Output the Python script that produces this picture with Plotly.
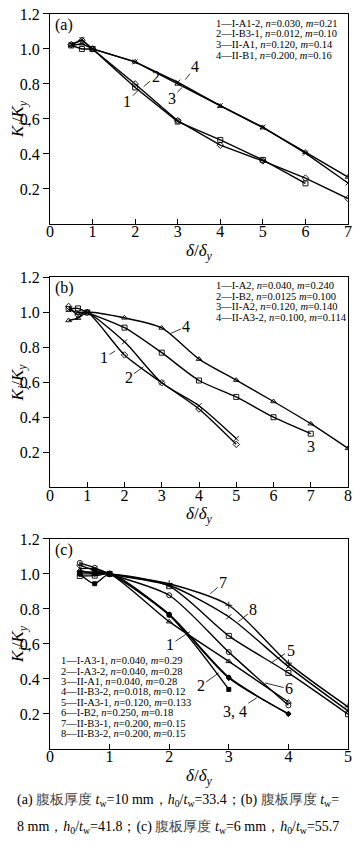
import plotly.graph_objects as go

# ---------------- data ----------------
# panel (a)
a_x = [
    [0.5, 0.75, 1, 2, 3, 4, 5, 6, 7],
    [0.5, 0.75, 1, 2, 3, 4, 5, 6],
    [0.5, 0.75, 1, 2, 3, 4, 5, 6, 7],
    [0.5, 0.75, 1, 2, 3, 4, 5, 6, 7],
]
a_y = [
    [1.025, 1.05, 1.0, 0.80, 0.59, 0.45, 0.36, 0.262, 0.145],
    [1.02, 1.0, 1.0, 0.78, 0.585, 0.48, 0.366, 0.232],
    [1.02, 1.03, 1.0, 0.926, 0.80, 0.673, 0.55, 0.41, 0.268],
    [1.025, 1.054, 1.0, 0.926, 0.81, 0.676, 0.553, 0.405, 0.234],
]
a_legend = [
    "1—I-A1-2, <i>n</i>=0.030, <i>m</i>=0.21",
    "2—I-B3-1, <i>n</i>=0.012, <i>m</i>=0.10",
    "3—II-A1, <i>n</i>=0.120, <i>m</i>=0.14",
    "4—II-B1, <i>n</i>=0.200, <i>m</i>=0.16",
]

# panel (b)
b_x = [
    [0.5, 0.75, 1, 2, 3, 4, 5],
    [0.5, 0.75, 1, 2, 3, 4, 5],
    [0.5, 0.75, 1, 2, 3, 4, 5, 6, 7],
    [0.5, 0.75, 1, 2, 3, 4, 5, 6, 7, 8],
]
b_y = [
    [1.034, 0.986, 1.0, 0.757, 0.598, 0.448, 0.246],
    [1.016, 1.0, 1.0, 0.832, 0.598, 0.467, 0.279],
    [1.02, 1.023, 1.0, 0.913, 0.77, 0.611, 0.517, 0.401, 0.307],
    [0.954, 0.967, 1.0, 0.969, 0.911, 0.733, 0.613, 0.491, 0.364, 0.223],
]
b_legend = [
    "1—I-A2, <i>n</i>=0.040, <i>m</i>=0.240",
    "2—I-B2, <i>n</i>=0.0125 <i>m</i>=0.100",
    "3—II-A2, <i>n</i>=0.120, <i>m</i>=0.140",
    "4—II-A3-2, <i>n</i>=0.100, <i>m</i>=0.114",
]

# panel (c)
c_x = [
    [0.5, 0.75, 1, 2, 3, 4],
    [0.5, 0.75, 1, 2, 3],
    [0.5, 0.75, 1, 2, 3, 4],
    [0.5, 0.75, 1, 2, 3, 4],
    [0.5, 0.75, 1, 2, 3, 4, 5],
    [0.5, 0.75, 1, 2, 3, 4],
    [0.5, 0.75, 1, 2, 3, 4, 5],
    [0.5, 0.75, 1, 2, 3, 4, 5],
]
c_y = [
    [1.02, 1.0, 1.0, 0.727, 0.50, 0.268],
    [1.0, 0.944, 1.0, 0.765, 0.34],
    [1.01, 1.01, 1.0, 0.77, 0.41, 0.20],
    [1.0, 1.0, 1.0, 0.765, 0.405, 0.20],
    [0.988, 0.99, 1.0, 0.93, 0.646, 0.434, 0.198],
    [1.063, 1.035, 1.0, 0.878, 0.553, 0.249],
    [1.05, 1.02, 1.0, 0.944, 0.821, 0.49, 0.24],
    [1.03, 1.03, 1.0, 0.935, 0.755, 0.47, 0.217],
]
c_legend = [
    "1—I-A3-1, <i>n</i>=0.040, <i>m</i>=0.29",
    "2—I-A3-2, <i>n</i>=0.040, <i>m</i>=0.28",
    "3—II-A1, <i>n</i>=0.040, <i>m</i>=0.28",
    "4—II-B3-2, <i>n</i>=0.018, <i>m</i>=0.12",
    "5—II-A3-1, <i>n</i>=0.120, <i>m</i>=0.133",
    "6—I-B2, <i>n</i>=0.250, <i>m</i>=0.18",
    "7—II-B3-1, <i>n</i>=0.200, <i>m</i>=0.15",
    "8—II-B3-2, <i>n</i>=0.200, <i>m</i>=0.15",
]

y_ticks = [0.2, 0.4, 0.6, 0.8, 1.0, 1.2]

# ---------------- styling/layout ----------------
W, H = 353, 843
L, R = 50, 348
SERIF = "Liberation Serif"


def X(px):
    return (px - L) / (R - L)


def Y(py):
    return 1 - py / H


panels = [
    dict(top=6, bot=218, xmax=7, label="(a)", tgap=28),
    dict(top=272, bot=484, xmax=8, label="(b)", tgap=28),
    dict(top=536, bot=748, xmax=5, label="(c)", tgap=28),
]

fig = go.Figure()

a_sym = ["diamond-open", "square-open", "triangle-up-open", "x-thin"]
b_sym = ["diamond-open", "x-thin", "square-open", "triangle-up-open"]
c_sym = ["triangle-up-open", "square", "circle", "diamond", "square-open",
         "circle-open", "cross-thin", "x-thin"]


def add_series(xs, ys, syms, ax_id, shape):
    for xv, yv, s in zip(xs, ys, syms):
        small = s in ("square", "circle", "diamond")
        fig.add_trace(go.Scatter(
            x=xv, y=yv, mode="lines+markers",
            xaxis="x" + ax_id, yaxis="y" + ax_id,
            line=dict(color="black", width=1.4, shape=shape,
                      smoothing=0.7 if shape == "spline" else None),
            marker=dict(symbol=s, size=4 if small else 5, color="black",
                        line=dict(color="black", width=0.9)),
            hoverinfo="skip",
        ))


add_series(a_x, a_y, a_sym, "", "linear")
add_series(b_x, b_y, b_sym, "2", "spline")
add_series(c_x, c_y, c_sym, "3", "spline")

layout = dict(
    width=W, height=H,
    margin=dict(l=L, r=W - R, t=0, b=0),
    paper_bgcolor="white", plot_bgcolor="white",
    showlegend=False,
    font=dict(family=SERIF, size=14, color="black"),
)
for i, p in enumerate(panels):
    sfx = "" if i == 0 else str(i + 1)
    layout["xaxis" + sfx] = dict(
        domain=[0, 1], anchor="y" + sfx, range=[0, p["xmax"]],
        tickvals=list(range(0, p["xmax"] + 1)),
        ticks="inside", ticklen=5, tickcolor="black", tickwidth=1,
        showline=True, linecolor="black", linewidth=1, mirror=True,
        showgrid=False, zeroline=False, ticklabelstandoff=-7,
        tickfont=dict(family=SERIF, size=16, color="black"),
    )
    layout["yaxis" + sfx] = dict(
        domain=[Y(p["bot"]), Y(p["top"])], anchor="x" + sfx, range=[0, 1.2],
        tickvals=y_ticks, ticktext=["%.1f" % t for t in y_ticks],
        ticks="outside", ticklen=6, tickcolor="black", tickwidth=1,
        showline=True, linecolor="black", linewidth=1, mirror=True,
        showgrid=False, zeroline=False,
        tickfont=dict(family=SERIF, size=16, color="black"),
    )
fig.update_layout(**layout)

ann = []
for i, p in enumerate(panels):
    # panel label
    ann.append(dict(xref="paper", yref="paper", x=X(53), y=Y(p["top"] + 11),
                    xanchor="left", yanchor="middle", text=p["label"],
                    showarrow=False, font=dict(family=SERIF, size=16)))
    # y title
    ann.append(dict(xref="paper", yref="paper", x=X(19),
                    y=Y((p["top"] + p["bot"]) / 2), textangle=-90,
                    xanchor="center", yanchor="middle",
                    text="<i>K</i><sub><i>j</i></sub>/<i>K</i><sub><i>y</i></sub>",
                    showarrow=False, font=dict(family=SERIF, size=17)))
    # x title
    ann.append(dict(xref="paper", yref="paper", x=X(199),
                    y=Y(p["bot"] + p["tgap"]),
                    xanchor="center", yanchor="middle", borderpad=0,
                    text="<i>δ</i>/<i>δ</i><sub><i>y</i></sub>",
                    showarrow=False, font=dict(family=SERIF, size=17)))


def legend_lines(lines, x0, y0, dy):
    for k, t in enumerate(lines):
        ann.append(dict(xref="paper", yref="paper", x=X(x0), y=Y(y0 + k * dy),
                        xanchor="left", yanchor="middle", text=t,
                        borderpad=0,
                        showarrow=False, font=dict(family=SERIF, size=10.5)))


legend_lines(a_legend, 215, 15.5, 10.7)
legend_lines(b_legend, 215, 280.5, 10.6)
legend_lines(c_legend, 60, 659, 10.5)


def lab(text, xa, ya, x, y, ax, ay, arrow=True):
    ann.append(dict(xref=xa, yref=ya, x=x, y=y, ax=ax, ay=ay, text=text,
                    showarrow=arrow, arrowhead=0, arrowwidth=0.8,
                    arrowcolor="black", standoff=0,
                    font=dict(family=SERIF, size=16)))


# panel (a) curve labels
lab("1", "x", "y", 2.1, 0.77, -12, 12)
lab("2", "x", "y", 2.2, 0.785, 12, -10)
lab("3", "x", "y", 3.1, 0.78, -10, 11)
lab("4", "x", "y", 3.18, 0.825, 10, -13)
# panel (b)
lab("1", "x2", "y2", 1.75, 0.78, -11, 7)
lab("2", "x2", "y2", 2.51, 0.69, -15, 11)
lab("4", "x2", "y2", 3.23, 0.879, 16, -7)
lab("3", "x2", "y2", 7, 0.235, 0, 0, arrow=False)
# panel (c)
lab("7", "x3", "y3", 2.69, 0.887, 13, -11)
lab("8", "x3", "y3", 3.16, 0.727, 15, -12)
lab("1", "x3", "y3", 2.35, 0.67, -20, 13)
lab("5", "x3", "y3", 3.70, 0.49, 20, -13)
lab("6", "x3", "y3", 3.61, 0.377, 24, 6)
lab("2", "x3", "y3", 2.83, 0.434, -18, 13)
lab("3, 4", "x3", "y3", 3.47, 0.292, -22, 14)

# caption
G = '<span style="color:#444">'
cap1 = ("(a) " + G + "腹板厚度</span> <i>t</i><sub>w</sub>=10 mm，"
        "<i>h</i><sub>0</sub>/<i>t</i><sub>w</sub>=33.4；(b) " + G +
        "腹板厚度</span> <i>t</i><sub>w</sub>=")
cap2 = ("8 mm，<i>h</i><sub>0</sub>/<i>t</i><sub>w</sub>=41.8；(c) " + G +
        "腹板厚度</span> <i>t</i><sub>w</sub>=6 mm，"
        "<i>h</i><sub>0</sub>/<i>t</i><sub>w</sub>=55.7")
ann.append(dict(xref="paper", yref="paper", x=X(178), y=Y(800),
                xanchor="center", yanchor="middle", text=cap1,
                showarrow=False, font=dict(family=SERIF, size=14)))
ann.append(dict(xref="paper", yref="paper", x=X(178), y=Y(827),
                xanchor="center", yanchor="middle", text=cap2,
                showarrow=False, font=dict(family=SERIF, size=14)))

fig.update_layout(annotations=ann)
fig.write_html("out.html")
